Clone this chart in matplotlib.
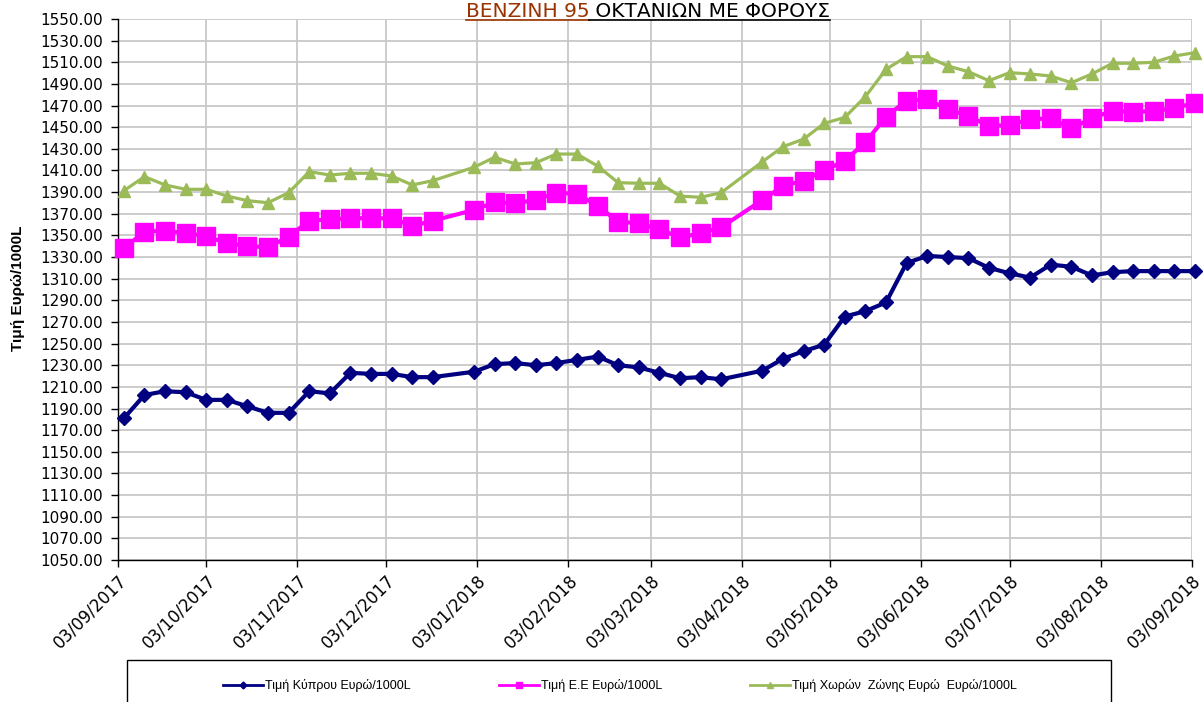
import matplotlib
matplotlib.use("Agg")
import matplotlib.pyplot as plt
import matplotlib.dates as mdates
from matplotlib.lines import Line2D
from matplotlib.patches import Rectangle
import pandas as pd

# weekly readings (Tuesdays), two weeks missing in the source
dates = pd.date_range("2017-09-05", "2018-09-04", freq="7D")
dates = dates.drop([pd.Timestamp("2017-12-26"), pd.Timestamp("2018-04-03")])

cyprus = [1181, 1202.5, 1206, 1205, 1198, 1198, 1192, 1186, 1186, 1206, 1204, 1223,
          1222, 1222, 1219, 1219,
          1224, 1231, 1232, 1230, 1232, 1235, 1238, 1230, 1228, 1223, 1218, 1219, 1217,
          1225, 1236, 1243, 1249, 1275, 1280, 1288, 1324.5, 1331, 1330, 1329, 1320,
          1315, 1311, 1323, 1321, 1313, 1316, 1317, 1317, 1317, 1317]
eu = [1338, 1353.4, 1354.3, 1352, 1349.4, 1342.7, 1340.2, 1339, 1348.8, 1363.6, 1364.9,
      1365.8, 1365.8, 1365.8, 1358.7, 1363.6,
      1373.5, 1380.6, 1379.7, 1382.7, 1389.5, 1388.3, 1377.2, 1362.7, 1361.2, 1355.6,
      1348.2, 1352, 1357.5,
      1382.7, 1395.7, 1400.6, 1410, 1419, 1436, 1459.7, 1474.5, 1475.8, 1466.5, 1460.4,
      1451.1, 1452, 1457.3, 1458.2, 1449, 1458.2, 1465.3, 1464, 1465, 1467.5, 1472.6]
euro_zone = [1391.3, 1404.3, 1396.6, 1392.6, 1392.6, 1386.4, 1382.1, 1380.2, 1389.5,
             1408.9, 1405.8, 1407.4, 1407.4, 1404.9, 1396.6, 1400.6,
             1413, 1422.2, 1416, 1417.2, 1425.2, 1425.2, 1414.1, 1398.7, 1398.2, 1398.2,
             1386.4, 1385.2, 1389.5,
             1418.1, 1432, 1439, 1453.5, 1459.1, 1478.2, 1503.5, 1515.2, 1515.2, 1506.6,
             1501.3, 1493, 1500.4, 1499.2, 1497.3, 1491.1, 1499.2, 1509.1, 1509.1, 1510,
             1515.8, 1518.9]

labels = ["Τιμή Κύπρου Ευρώ/1000L", "Τιμή Ε.Ε Ευρώ/1000L",
          "Τιμή Χωρών  Ζώνης Ευρώ  Ευρώ/1000L"]
title_a = "ΒΕΝΖΙΝΗ 95"
title_b = " ΟΚΤΑΝΙΩΝ ΜΕ ΦΟΡΟΥΣ"

navy = "#000080"
magenta = "#FF00FF"
green = "#9BBB59"

W, H = 1203, 702
fig = plt.figure(figsize=(W / 100, H / 100), dpi=100)
ax = fig.add_axes([118 / W, 1 - 560 / H, (1192 - 118) / W, (560 - 19) / H])

ax.plot(dates, cyprus, color=navy, lw=3, marker="D", ms=7.5, clip_on=False, zorder=3)
ax.plot(dates, eu, color=magenta, lw=3, marker="s", ms=12.5, clip_on=False, zorder=3)
ax.plot(dates, euro_zone, color=green, lw=2.3, marker="^", ms=9, clip_on=False, zorder=3)

ax.set_ylim(1050, 1550)
ax.set_yticks(range(1050, 1551, 20))
ax.yaxis.set_major_formatter(matplotlib.ticker.FormatStrFormatter("%.2f"))
ax.set_xlim(pd.Timestamp("2017-09-03"), pd.Timestamp("2018-09-03"))
ax.set_xticks(pd.date_range("2017-09-01", "2018-09-01", freq="MS") + pd.Timedelta(days=2))
ax.xaxis.set_major_formatter(mdates.DateFormatter("%d/%m/%Y"))

ax.grid(True, color="#c8c8c8", lw=1.3)
ax.set_axisbelow(True)
for s in ["top", "right"]:
    ax.spines[s].set_visible(False)
for s in ["left", "bottom"]:
    ax.spines[s].set_color("black")
    ax.spines[s].set_linewidth(1)
ax.tick_params(length=5, width=1, direction="out", color="black")
ax.tick_params(axis="y", labelsize=11, pad=6)
ax.tick_params(axis="x", labelsize=12, pad=3)
for t in ax.get_xticklabels():
    t.set_rotation(45)
    t.set_ha("right")
    t.set_rotation_mode("anchor")

fig.text(18 / W, 1 - 288 / H, "Τιμή Ευρώ/1000L", rotation=90, ha="center", va="center",
         fontsize=11, fontweight="bold", family="Liberation Sans")

# title in two colours, underlined
ta = fig.text(0, 1 - 17 / H, title_a, color="#993300", fontsize=14.5, va="baseline")
tb = fig.text(0, 1 - 17 / H, title_b, color="black", fontsize=14.5, va="baseline")
fig.canvas.draw()
r = fig.canvas.get_renderer()
wa = ta.get_window_extent(r).width
wb = tb.get_window_extent(r).width
x0 = 648 - (wa + wb) / 2
ta.set_x(x0 / W)
tb.set_x((x0 + wa) / W)
yl = 1 - 19.5 / H
fig.add_artist(Line2D([x0 / W, (x0 + wa) / W], [yl, yl], color="#993300", lw=1.2,
                      transform=fig.transFigure))
fig.add_artist(Line2D([(x0 + wa) / W, (x0 + wa + wb) / W], [yl, yl], color="black",
                      lw=1.2, transform=fig.transFigure))

# legend box running off the bottom edge
fig.add_artist(Rectangle((127 / W, 1 - 730 / H), 984 / W, 70 / H, fill=False,
                         edgecolor="black", lw=1, transform=fig.transFigure))
handles = [Line2D([], [], color=navy, lw=2, marker="D", ms=3.5),
           Line2D([], [], color=magenta, lw=2, marker="s", ms=4),
           Line2D([], [], color=green, lw=2, marker="^", ms=4)]
fig.legend(handles, labels, loc="center", bbox_to_anchor=(620 / W, 1 - 686 / H),
           ncol=3, frameon=False, handlelength=3.2, handletextpad=0.2,
           columnspacing=7.0, prop={"family": "Liberation Sans", "size": 9})

fig.savefig("out.png", dpi=100)
